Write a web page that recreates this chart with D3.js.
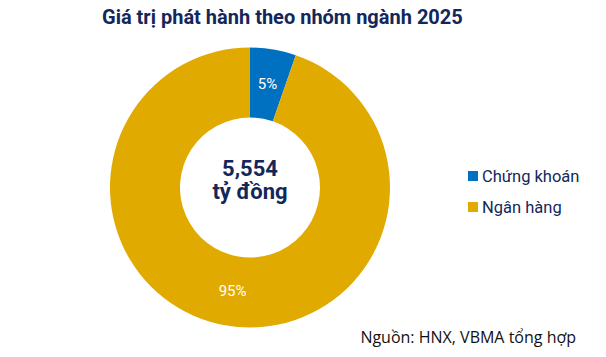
<!DOCTYPE html>
<html><head><meta charset="utf-8">
<script src="https://cdn.jsdelivr.net/npm/d3@7"></script>
<style>body{margin:0;background:#fff}</style>
</head><body>
<svg id="c" width="606" height="357"></svg>
<script>
const categories = ["Chứng khoán", "Ngân hàng"];
const values = [5.3, 94.7];
const labels = ["5%", "95%"];
const colors = ["#0070C0", "#E1AA00"];
const title = "Giá trị phát hành theo nhóm ngành 2025";
const centerLines = ["5,554", "tỷ đồng"];
const source = "Nguồn: HNX, VBMA tổng hợp";

const svg = d3.select("#c");
const navy = "#13275b";
svg.append("text").attr("x", 102).attr("y", 24).attr("font-family", "Roboto").attr("font-weight", "bold")
  .attr("font-size", 20).attr("fill", navy).text(title);

const cx = 250, cy = 187.5, R = 140, r = 70;
const g = svg.append("g").attr("transform", `translate(${cx},${cy})`);
const pie = d3.pie().sort(null).value(d => d)(values);
const arc = d3.arc().innerRadius(r).outerRadius(R);
g.selectAll("path").data(pie).enter().append("path").attr("d", arc).attr("fill", (d, i) => colors[i]);
const labArc = d3.arc().innerRadius(105).outerRadius(105);
g.selectAll("text.lab").data(pie).enter().append("text").attr("class", "lab")
  .attr("transform", d => `translate(${labArc.centroid(d)})`)
  .attr("text-anchor", "middle").attr("dy", "0.35em")
  .attr("font-family", "Roboto").attr("font-size", 15).attr("fill", "#fff")
  .text((d, i) => labels[i]);
g.selectAll("text.ctr").data(centerLines).enter().append("text").attr("class", "ctr")
  .attr("x", 0).attr("y", (d, i) => -12 + i * 23).attr("text-anchor", "middle")
  .attr("font-family", "Roboto").attr("font-weight", "bold").attr("font-size", 22).attr("fill", navy)
  .text(d => d);

const leg = svg.append("g");
categories.forEach((c, i) => {
  const y = 176 + i * 31;
  leg.append("rect").attr("x", 468).attr("y", y - 5).attr("width", 10).attr("height", 10).attr("fill", colors[i]);
  leg.append("text").attr("x", 482).attr("y", y).attr("dy", "0.35em").attr("font-family", "Roboto")
    .attr("font-size", 16.5).attr("fill", navy).text(c);
});
svg.append("text").attr("x", 576).attr("y", 343).attr("text-anchor", "end").attr("font-family", "Open Sans")
  .attr("font-size", 16).attr("fill", "#111").text(source);
</script>
</body></html>
